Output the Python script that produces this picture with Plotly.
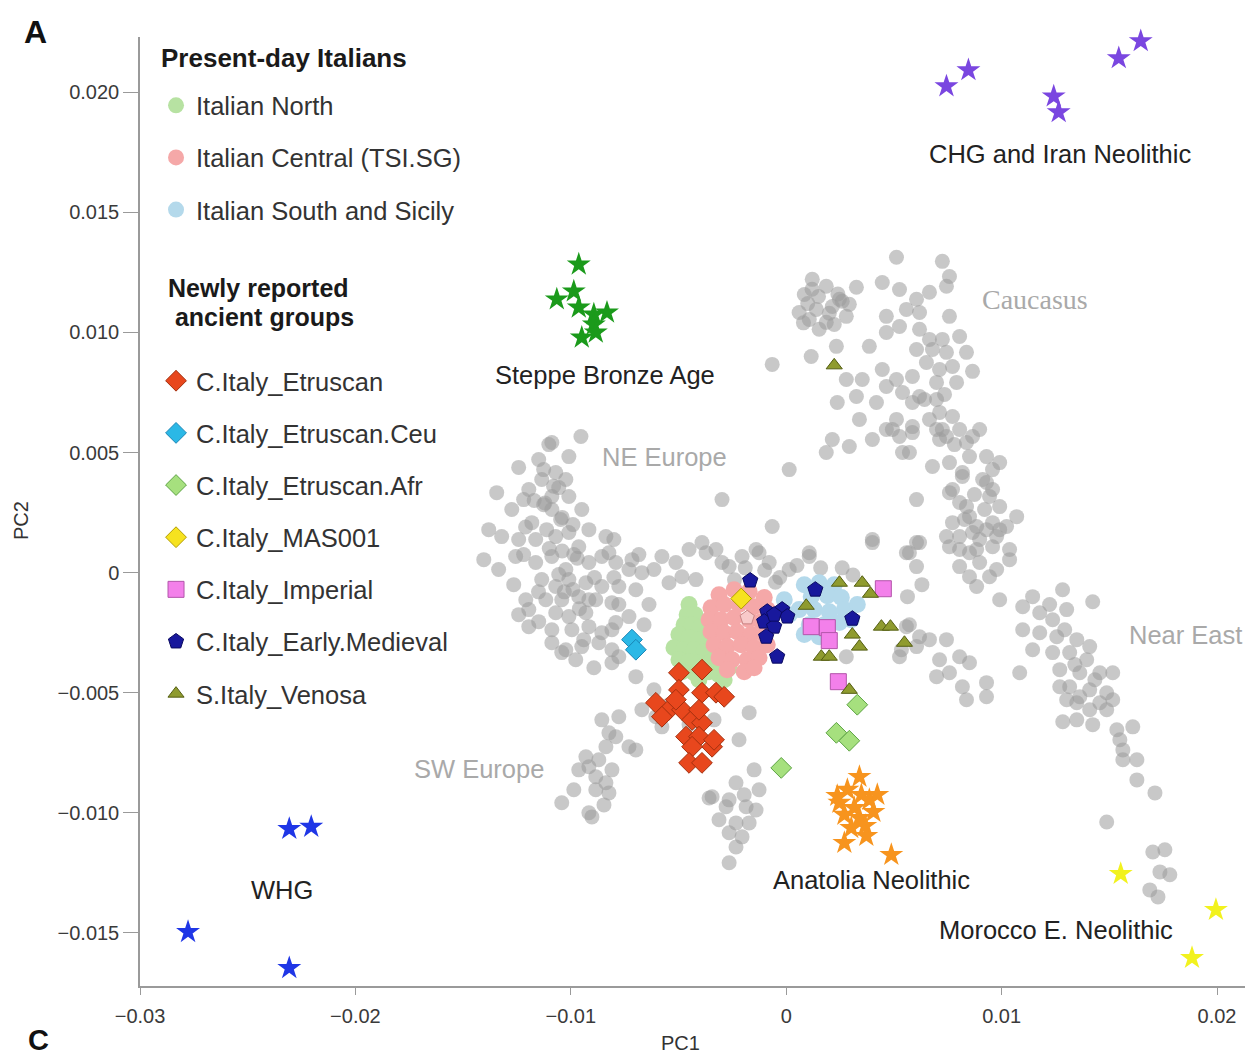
import plotly.graph_objects as go

FONT = "Liberation Sans, Arial, Helvetica, sans-serif"

# ---------------- background reference populations (grey) ----------------
grey_west_europe = [
    (-11.02e-3, 5.33e-3), (-9.53e-3, 5.67e-3), (-10.09e-3, 4.83e-3), (-10.70e-3, 4.17e-3), (-11.35e-3, 3.88e-3),
    (-10.23e-3, 3.88e-3), (-11.95e-3, 3.46e-3), (-10.88e-3, 3.17e-3), (-10.09e-3, 3.17e-3), (-13.44e-3, 3.33e-3),
    (-12.74e-3, 2.63e-3), (-10.88e-3, 2.63e-3), (-9.49e-3, 2.63e-3), (-11.81e-3, 2.08e-3), (-13.81e-3, 1.79e-3),
    (-13.21e-3, 1.50e-3), (-12.42e-3, 1.38e-3), (-11.63e-3, 1.38e-3), (-10.70e-3, 1.50e-3), (-10.09e-3, 1.67e-3),
    (-9.63e-3, 1.08e-3), (-8.37e-3, 1.50e-3), (-14.04e-3, 0.54e-3), (-13.35e-3, 0.13e-3), (-12.56e-3, 0.67e-3),
    (-11.63e-3, 0.42e-3), (-10.88e-3, 0.67e-3), (-10.23e-3, 0.13e-3), (-9.16e-3, 0.42e-3), (-8.56e-3, 0.67e-3),
    (-7.91e-3, 0.42e-3), (-7.30e-3, 0.13e-3), (-6.70e-3, 0.00e-3), (-5.77e-3, 0.67e-3), (-5.12e-3, 0.42e-3),
    (-4.51e-3, 0.96e-3), (-3.91e-3, 1.25e-3), (-3.26e-3, 0.96e-3), (-2.98e-3, 0.42e-3), (-4.84e-3, -0.17e-3),
    (-5.44e-3, -0.42e-3), (-4.19e-3, -0.29e-3), (-11.35e-3, -0.29e-3), (-10.70e-3, -0.58e-3), (-10.09e-3, -0.29e-3),
    (-9.30e-3, -0.42e-3), (-8.56e-3, -0.58e-3), (-7.77e-3, -0.58e-3), (-6.98e-3, -0.71e-3), (-11.16e-3, -1.13e-3),
    (-10.42e-3, -1.13e-3), (-9.63e-3, -1.00e-3), (-8.84e-3, -1.13e-3), (-8.09e-3, -1.25e-3), (-10.70e-3, -1.67e-3),
    (-10.09e-3, -1.83e-3), (-9.30e-3, -1.67e-3), (-11.95e-3, -2.25e-3), (-10.88e-3, -2.38e-3), (-9.95e-3, -2.38e-3),
    (-9.16e-3, -2.25e-3), (-8.56e-3, -2.50e-3), (-7.91e-3, -2.08e-3), (-7.30e-3, -1.83e-3), (-10.88e-3, -2.92e-3),
    (-10.23e-3, -3.21e-3), (-9.49e-3, -3.08e-3), (-8.70e-3, -2.92e-3), (-8.09e-3, -3.21e-3), (-8.09e-3, -3.75e-3),
    (-6.98e-3, -4.33e-3), (-2.05e-3, 0.67e-3), (-1.40e-3, 0.96e-3), (-0.79e-3, 0.42e-3), (0.14e-3, 0.13e-3),
    (-0.65e-3, 1.92e-3), (-2.98e-3, 3.04e-3), (0.14e-3, 4.29e-3), (-2.65e-3, 0.25e-3), (-0.65e-3, 8.67e-3),
    (1.16e-3, 9.00e-3), (2.33e-3, 9.42e-3), (2.37e-3, 7.08e-3), (-10.88e-3, 5.42e-3), (-8.23e-3, 0.83e-3),
    (-7.16e-3, 0.54e-3), (-3.72e-3, 0.83e-3), (-1.26e-3, 0.83e-3), (1.07e-3, 0.67e-3), (4.00e-3, 1.25e-3),
    (5.72e-3, 0.83e-3), (-8.09e-3, -2.38e-3), (-7.77e-3, -3.50e-3), (5.58e-3, -2.25e-3), (6.19e-3, -2.67e-3),
    (2.79e-3, -3.50e-3), (5.26e-3, -3.50e-3), (-12.65e-3, -0.50e-3), (-12.09e-3, -1.13e-3), (-11.49e-3, -2.04e-3),
    (-12.42e-3, -1.75e-3), (-9.77e-3, -3.63e-3), (-8.93e-3, -3.96e-3), (-6.37e-3, -1.33e-3), (-6.60e-3, -2.17e-3),
    (-12.42e-3, 4.38e-3), (-11.49e-3, 4.71e-3), (-11.2e-3, 2.9e-3), (-10.4e-3, 2.3e-3), (-9.9e-3, 2.0e-3),
    (-11.0e-3, 1.0e-3), (-10.4e-3, 0.9e-3), (-9.9e-3, -0.7e-3), (-10.3e-3, -0.8e-3), (-9.6e-3, -1.5e-3),
    (-11.5e-3, -0.8e-3), (-10.8e-3, 3.6e-3), (-11.7e-3, 3.0e-3), (-12.1e-3, 1.9e-3), (-8.9e-3, -0.2e-3),
    (-9.7e-3, 0.6e-3), (-8.0e-3, -0.2e-3), (-1.9e-3, 0.2e-3), (-1.0e-3, 0.1e-3), (-0.3e-3, -0.2e-3),
    (0.5e-3, 0.3e-3), (1.6e-3, 0.2e-3), (2.6e-3, 0.2e-3), (-2.4e-3, -0.3e-3), (-0.5e-3, -0.4e-3),
    (3.1e-3, -0.1e-3), (6.3e-3, -0.5e-3), (-11.26e-3, 4.29e-3), (-10.56e-3, 3.54e-3), (-11.26e-3, 2.83e-3),
    (-12.19e-3, 3.04e-3), (-10.47e-3, 2.21e-3), (-9.16e-3, 1.79e-3), (-11.12e-3, 1.79e-3), (-12.19e-3, 0.75e-3),
    (-10.56e-3, -0.08e-3), (-9.16e-3, -1.13e-3), (-9.86e-3, 0.75e-3), (-8.00e-3, 1.38e-3), (-6.84e-3, 0.75e-3),
    (-6.14e-3, 0.13e-3), (-11.95e-3, -1.54e-3), (-9.40e-3, -2.79e-3), (-7.77e-3, -1.33e-3),
]

grey_sw_europe = [
    (-10.42e-3, -9.58e-3), (-9.02e-3, -10.17e-3), (-9.16e-3, -8.08e-3), (-8.84e-3, -8.50e-3), (-8.37e-3, -8.75e-3),
    (-8.09e-3, -8.21e-3), (-9.63e-3, -8.21e-3), (-8.37e-3, -7.25e-3), (-7.91e-3, -6.83e-3), (-7.30e-3, -7.25e-3),
    (-6.98e-3, -7.38e-3), (-8.56e-3, -6.13e-3), (-7.77e-3, -6.00e-3), (-8.23e-3, -6.67e-3), (-10.42e-3, -3.33e-3),
    (-6.70e-3, -5.71e-3), (-6.05e-3, -6.00e-3), (-5.77e-3, -6.42e-3), (-9.30e-3, -7.67e-3), (-8.70e-3, -7.79e-3),
    (-8.84e-3, -9.04e-3), (-8.23e-3, -9.17e-3), (-9.16e-3, -10.00e-3), (-8.46e-3, -9.67e-3), (-9.86e-3, -9.04e-3),
    (-1.72e-3, -5.83e-3), (-2.19e-3, -6.96e-3), (-2.33e-3, -8.75e-3), (-3.44e-3, -9.33e-3), (-2.65e-3, -9.46e-3),
    (-1.86e-3, -9.75e-3), (-1.40e-3, -9.88e-3), (-3.12e-3, -10.29e-3), (-2.33e-3, -10.42e-3), (-1.72e-3, -10.42e-3),
    (-2.65e-3, -10.83e-3), (-2.05e-3, -11.00e-3), (-2.33e-3, -11.42e-3), (-2.65e-3, -12.08e-3), (-3.58e-3, -9.38e-3),
    (-2.79e-3, -9.75e-3), (-1.95e-3, -9.25e-3), (-1.26e-3, -9.04e-3), (-1.49e-3, -8.21e-3), (-5.44e-3, -5.50e-3),
    (-4.51e-3, -6.33e-3), (-3.35e-3, -6.13e-3), (-6.14e-3, -4.88e-3),
]

grey_caucasus = [
    (5.12e-3, 13.13e-3), (7.25e-3, 12.96e-3), (7.58e-3, 12.33e-3), (1.21e-3, 12.21e-3), (1.86e-3, 11.92e-3),
    (3.26e-3, 11.88e-3), (4.46e-3, 12.08e-3), (5.26e-3, 11.79e-3), (6.05e-3, 11.38e-3), (6.65e-3, 11.67e-3),
    (7.44e-3, 11.92e-3), (0.60e-3, 10.83e-3), (1.40e-3, 10.96e-3), (2.14e-3, 11.08e-3), (2.79e-3, 10.67e-3),
    (1.86e-3, 10.42e-3), (1.07e-3, 10.54e-3), (1.53e-3, 10.13e-3), (5.58e-3, 10.96e-3), (6.19e-3, 10.83e-3),
    (4.65e-3, 10.67e-3), (7.58e-3, 10.67e-3), (5.26e-3, 10.25e-3), (4.65e-3, 10.00e-3), (6.19e-3, 10.13e-3),
    (6.65e-3, 9.71e-3), (7.25e-3, 9.71e-3), (8.05e-3, 9.83e-3), (3.86e-3, 9.42e-3), (6.05e-3, 9.29e-3),
    (6.79e-3, 9.29e-3), (7.44e-3, 9.17e-3), (8.37e-3, 9.17e-3), (6.51e-3, 8.75e-3), (7.12e-3, 8.46e-3),
    (7.72e-3, 8.58e-3), (8.65e-3, 8.38e-3), (4.46e-3, 8.46e-3), (3.53e-3, 8.04e-3), (2.79e-3, 8.04e-3),
    (5.12e-3, 8.04e-3), (5.86e-3, 8.17e-3), (6.98e-3, 7.92e-3), (7.91e-3, 7.92e-3), (4.65e-3, 7.75e-3),
    (5.40e-3, 7.50e-3), (6.19e-3, 7.33e-3), (6.98e-3, 7.21e-3), (3.26e-3, 7.33e-3), (4.19e-3, 7.08e-3),
    (5.86e-3, 7.08e-3), (7.12e-3, 6.67e-3), (7.72e-3, 6.50e-3), (3.40e-3, 6.38e-3), (5.12e-3, 6.38e-3),
    (5.86e-3, 6.08e-3), (4.65e-3, 5.96e-3), (6.98e-3, 5.96e-3), (8.05e-3, 5.96e-3), (8.98e-3, 5.96e-3),
    (2.14e-3, 5.54e-3), (2.93e-3, 5.25e-3), (4.00e-3, 5.54e-3), (5.26e-3, 5.67e-3), (7.44e-3, 5.67e-3),
    (8.65e-3, 5.67e-3), (1.86e-3, 5.00e-3), (5.72e-3, 5.00e-3), (8.51e-3, 4.83e-3), (9.30e-3, 4.83e-3),
    (6.79e-3, 4.42e-3), (7.58e-3, 4.58e-3), (8.18e-3, 4.17e-3), (9.58e-3, 4.29e-3), (9.91e-3, 4.58e-3),
    (9.30e-3, 3.75e-3), (9.44e-3, 3.17e-3), (7.72e-3, 3.46e-3), (6.05e-3, 3.04e-3), (8.37e-3, 2.75e-3),
    (9.91e-3, 2.75e-3), (10.70e-3, 2.33e-3), (7.72e-3, 2.08e-3), (8.51e-3, 2.33e-3), (7.44e-3, 1.50e-3),
    (8.05e-3, 0.96e-3), (8.65e-3, 1.67e-3), (9.30e-3, 1.79e-3), (9.91e-3, 1.79e-3), (8.84e-3, 0.96e-3),
    (9.58e-3, 1.08e-3), (10.37e-3, 0.96e-3), (4.00e-3, 1.38e-3), (1.07e-3, 0.83e-3), (6.05e-3, 1.25e-3),
    (5.58e-3, 0.83e-3), (1.5e-3, 11.5e-3), (2.4e-3, 11.6e-3), (1.0e-3, 11.2e-3), (2.0e-3, 10.8e-3),
    (2.6e-3, 11.3e-3), (1.2e-3, 11.8e-3), (0.8e-3, 10.4e-3), (2.47e-3, 11.38e-3), (0.84e-3, 11.58e-3),
    (2.93e-3, 11.17e-3), (2.23e-3, 10.33e-3), (6.42e-3, 7.21e-3), (7.35e-3, 7.42e-3), (6.65e-3, 6.38e-3),
    (7.81e-3, 5.33e-3), (8.28e-3, 2.21e-3), (9.21e-3, 2.63e-3), (8.74e-3, 3.25e-3),
]

grey_near_east = [
    (4.93e-3, 5.96e-3), (5.86e-3, 5.83e-3), (7.25e-3, 5.96e-3), (5.40e-3, 5.00e-3), (7.12e-3, 5.54e-3),
    (8.37e-3, 5.42e-3), (8.18e-3, 4.00e-3), (9.12e-3, 3.88e-3), (9.58e-3, 3.46e-3), (7.58e-3, 3.33e-3),
    (8.05e-3, 2.92e-3), (8.84e-3, 1.92e-3), (9.58e-3, 2.08e-3), (10.23e-3, 1.92e-3), (8.05e-3, 1.50e-3),
    (8.98e-3, 1.38e-3), (9.77e-3, 1.50e-3), (7.58e-3, 1.08e-3), (8.51e-3, 0.83e-3), (6.19e-3, 1.25e-3),
    (8.05e-3, 0.25e-3), (8.98e-3, 0.42e-3), (9.77e-3, 0.13e-3), (10.37e-3, 0.54e-3), (6.05e-3, 0.25e-3),
    (8.51e-3, -0.17e-3), (9.44e-3, -0.17e-3), (8.84e-3, -0.58e-3), (9.91e-3, -1.13e-3), (5.63e-3, -1.00e-3),
    (10.98e-3, -1.42e-3), (11.44e-3, -1.00e-3), (12.83e-3, -0.71e-3), (14.23e-3, -1.21e-3), (11.77e-3, -1.67e-3),
    (12.37e-3, -1.96e-3), (13.02e-3, -1.54e-3), (10.98e-3, -2.38e-3), (11.77e-3, -2.50e-3), (12.56e-3, -2.67e-3),
    (13.49e-3, -2.79e-3), (14.09e-3, -3.08e-3), (11.44e-3, -3.21e-3), (12.37e-3, -3.33e-3), (13.16e-3, -3.33e-3),
    (13.95e-3, -3.63e-3), (12.70e-3, -4.04e-3), (13.63e-3, -4.17e-3), (14.56e-3, -4.17e-3), (15.16e-3, -4.17e-3),
    (13.16e-3, -4.75e-3), (14.09e-3, -4.88e-3), (14.88e-3, -5.00e-3), (13.49e-3, -5.42e-3), (14.56e-3, -5.42e-3),
    (10.84e-3, -4.17e-3), (6.65e-3, -2.79e-3), (7.44e-3, -2.79e-3), (6.05e-3, -3.08e-3), (7.12e-3, -3.63e-3),
    (8.05e-3, -3.50e-3), (8.51e-3, -3.75e-3), (6.98e-3, -4.33e-3), (7.58e-3, -4.17e-3), (8.18e-3, -4.75e-3),
    (9.30e-3, -4.58e-3), (8.37e-3, -5.29e-3), (9.30e-3, -5.17e-3), (5.72e-3, -2.17e-3), (5.35e-3, -3.21e-3),
    (12.70e-3, -4.75e-3), (13.63e-3, -5.17e-3), (15.16e-3, -5.29e-3), (13.02e-3, -5.29e-3), (14.09e-3, -5.71e-3),
    (14.88e-3, -5.71e-3), (12.84e-3, -6.21e-3), (13.49e-3, -6.13e-3), (14.23e-3, -6.33e-3), (15.35e-3, -6.54e-3),
    (16.09e-3, -6.42e-3), (15.49e-3, -6.96e-3), (15.63e-3, -7.38e-3), (15.63e-3, -7.79e-3), (16.28e-3, -7.79e-3),
    (16.28e-3, -8.63e-3), (17.12e-3, -9.17e-3), (14.88e-3, -10.38e-3), (17.02e-3, -11.63e-3), (17.58e-3, -11.54e-3),
    (17.35e-3, -12.46e-3), (17.81e-3, -12.58e-3), (16.88e-3, -13.21e-3), (17.26e-3, -13.50e-3),
    (12.23e-3, -1.33e-3), (12.93e-3, -2.38e-3), (13.40e-3, -3.83e-3), (14.33e-3, -4.46e-3),
]

# ---------------- present-day Italians ----------------
italian_north = [
    (-4.51e-3, -1.33e-3), (-4.60e-3, -1.75e-3), (-4.23e-3, -1.75e-3), (-4.74e-3, -2.17e-3), (-4.37e-3, -2.17e-3),
    (-4.00e-3, -2.29e-3), (-4.98e-3, -2.58e-3), (-4.51e-3, -2.71e-3), (-4.05e-3, -2.79e-3), (-3.58e-3, -2.79e-3),
    (-5.21e-3, -3.13e-3), (-4.74e-3, -3.21e-3), (-4.28e-3, -3.21e-3), (-3.81e-3, -3.29e-3), (-3.35e-3, -3.21e-3),
    (-4.98e-3, -3.63e-3), (-4.51e-3, -3.71e-3), (-4.05e-3, -3.75e-3), (-3.49e-3, -3.71e-3), (-3.02e-3, -3.63e-3),
    (-4.84e-3, -4.13e-3), (-4.28e-3, -4.17e-3), (-3.58e-3, -4.13e-3), (-3.12e-3, -4.25e-3), (-2.65e-3, -3.96e-3),
    (-4.05e-3, -4.46e-3), (-2.88e-3, -4.46e-3),
]
italian_central = [
    (-3.12e-3, -0.92e-3), (-2.42e-3, -0.71e-3), (-1.72e-3, -0.79e-3), (-1.02e-3, -1.04e-3), (-3.49e-3, -1.46e-3),
    (-2.88e-3, -1.33e-3), (-2.19e-3, -1.33e-3), (-1.49e-3, -1.42e-3), (-0.88e-3, -1.54e-3), (-3.58e-3, -1.96e-3),
    (-3.02e-3, -1.96e-3), (-2.42e-3, -1.88e-3), (-1.72e-3, -1.96e-3), (-1.16e-3, -2.04e-3), (-3.49e-3, -2.46e-3),
    (-2.88e-3, -2.50e-3), (-2.28e-3, -2.46e-3), (-1.63e-3, -2.58e-3), (-1.02e-3, -2.58e-3), (-3.35e-3, -3.00e-3),
    (-2.74e-3, -3.08e-3), (-2.09e-3, -3.00e-3), (-1.49e-3, -3.13e-3), (-0.88e-3, -3.00e-3), (-3.12e-3, -3.54e-3),
    (-2.51e-3, -3.63e-3), (-1.81e-3, -3.63e-3), (-1.26e-3, -3.54e-3), (-2.74e-3, -4.04e-3), (-1.95e-3, -4.13e-3),
    (-1.49e-3, -3.96e-3),
]
italian_south = [
    (0.84e-3, -0.50e-3), (1.53e-3, -0.42e-3), (2.23e-3, -0.50e-3), (1.16e-3, -1.00e-3), (1.91e-3, -0.96e-3),
    (2.56e-3, -1.04e-3), (0.60e-3, -1.54e-3), (1.30e-3, -1.54e-3), (2.00e-3, -1.63e-3), (2.70e-3, -1.54e-3),
    (3.30e-3, -1.33e-3), (1.07e-3, -2.17e-3), (1.77e-3, -2.17e-3), (2.47e-3, -2.08e-3), (3.02e-3, -1.96e-3),
    (0.84e-3, -2.58e-3), (1.53e-3, -2.67e-3), (-0.09e-3, -1.13e-3), (0.14e-3, -1.75e-3),
]

# ---------------- newly reported ancient groups ----------------
etruscan = [
    (-4.98e-3, -4.17e-3), (-3.91e-3, -4.04e-3), (-4.98e-3, -4.88e-3), (-3.91e-3, -5.00e-3), (-3.26e-3, -5.00e-3),
    (-2.88e-3, -5.17e-3), (-6.05e-3, -5.42e-3), (-5.44e-3, -5.71e-3), (-4.84e-3, -5.71e-3), (-5.77e-3, -6.00e-3),
    (-4.37e-3, -6.13e-3), (-3.91e-3, -6.25e-3), (-4.65e-3, -6.83e-3), (-4.05e-3, -6.83e-3), (-3.44e-3, -7.25e-3),
    (-4.37e-3, -7.25e-3), (-4.51e-3, -7.92e-3), (-3.91e-3, -7.92e-3), (-5.12e-3, -5.29e-3), (-4.05e-3, -5.71e-3),
    (-3.35e-3, -6.96e-3),
]
etruscan_ceu = [(-7.16e-3, -2.79e-3), (-6.98e-3, -3.21e-3)]
etruscan_afr = [(-0.23e-3, -8.13e-3), (2.33e-3, -6.67e-3), (2.93e-3, -7.00e-3), (3.30e-3, -5.50e-3)]
mas001 = [(-2.09e-3, -1.08e-3)]
imperial = [(4.51e-3, -0.67e-3), (1.16e-3, -2.25e-3), (1.91e-3, -2.29e-3), (2.00e-3, -2.83e-3), (2.42e-3, -4.54e-3)]
early_medieval = [
    (-1.67e-3, -0.33e-3), (1.35e-3, -0.71e-3), (-0.88e-3, -1.63e-3), (-0.19e-3, -1.54e-3), (0.05e-3, -1.83e-3),
    (-1.02e-3, -2.04e-3), (-0.56e-3, -2.25e-3), (-0.93e-3, -2.67e-3), (-0.42e-3, -3.50e-3), (3.07e-3, -1.92e-3),
    (-0.56e-3, -1.75e-3),
]
early_medieval_outlier = [(-1.81e-3, -1.88e-3)]
venosa = [
    (2.47e-3, -0.42e-3), (3.53e-3, -0.42e-3), (3.91e-3, -0.88e-3), (0.93e-3, -1.38e-3), (4.42e-3, -2.25e-3),
    (4.84e-3, -2.25e-3), (3.07e-3, -2.58e-3), (3.40e-3, -3.08e-3), (5.49e-3, -2.92e-3), (1.63e-3, -3.50e-3),
    (2.00e-3, -3.50e-3), (2.93e-3, -4.88e-3), (2.23e-3, 8.63e-3),
]

# ---------------- ancient reference groups (stars) ----------------
steppe_ba = [
    (-9.63e-3, 12.83e-3), (-9.86e-3, 11.71e-3), (-10.65e-3, 11.38e-3), (-9.63e-3, 11.04e-3), (-8.93e-3, 10.75e-3),
    (-8.32e-3, 10.83e-3), (-8.93e-3, 10.33e-3), (-9.49e-3, 9.79e-3), (-8.84e-3, 10.00e-3),
]
chg_iran = [(7.44e-3, 20.25e-3), (8.46e-3, 20.92e-3), (12.42e-3, 19.83e-3), (12.65e-3, 19.17e-3),
            (15.44e-3, 21.42e-3), (16.46e-3, 22.13e-3)]
whg = [(-27.77e-3, -14.96e-3), (-23.07e-3, -10.67e-3), (-22.05e-3, -10.58e-3), (-23.07e-3, -16.46e-3)]
anatolia_n = [
    (3.40e-3, -8.50e-3), (2.84e-3, -9.04e-3), (3.49e-3, -9.25e-3), (2.47e-3, -9.58e-3), (3.16e-3, -9.79e-3),
    (3.86e-3, -9.46e-3), (2.70e-3, -10.08e-3), (3.40e-3, -10.21e-3), (4.05e-3, -9.96e-3), (3.02e-3, -10.63e-3),
    (3.67e-3, -10.54e-3), (2.70e-3, -11.25e-3), (3.72e-3, -10.96e-3), (4.88e-3, -11.75e-3), (4.23e-3, -9.25e-3),
    (2.37e-3, -9.29e-3),
]
morocco_en = [(15.53e-3, -12.54e-3), (19.95e-3, -14.04e-3), (18.84e-3, -16.04e-3)]

# ---------------- region / group labels ----------------
region_labels = [
    ("NE Europe", -5.63e-3, 4.83e-3, "#a9a9a9", "Liberation Sans", 25.5),
    ("Caucasus", 11.53e-3, 11.38e-3, "#a9a9a9", "Liberation Serif", 28),
    ("Near East", 18.56e-3, -2.58e-3, "#a9a9a9", "Liberation Sans", 25.5),
    ("SW Europe", -14.28e-3, -8.17e-3, "#a9a9a9", "Liberation Sans", 25.5),
    ("Steppe Bronze Age", -8.42e-3, 8.21e-3, "#222222", "Liberation Sans", 25.5),
    ("Anatolia Neolithic", 3.95e-3, -12.79e-3, "#222222", "Liberation Sans", 25.5),
    ("Morocco E. Neolithic", 12.51e-3, -14.88e-3, "#222222", "Liberation Sans", 25.5),
    ("WHG", -23.40e-3, -13.21e-3, "#222222", "Liberation Sans", 25.5),
    ("CHG and Iran Neolithic", 12.70e-3, 17.42e-3, "#222222", "Liberation Sans", 25.5),
]

x_tick_vals = [-0.03, -0.02, -0.01, 0, 0.01, 0.02]
x_tick_text = ["\u22120.03", "\u22120.02", "\u22120.01", "0", "0.01", "0.02"]
y_tick_vals = [-0.015, -0.010, -0.005, 0, 0.005, 0.010, 0.015, 0.020]
y_tick_text = ["\u22120.015", "\u22120.010", "\u22120.005", "0", "0.005", "0.010", "0.015", "0.020"]


def xs(pts):
    return [p[0] for p in pts]


def ys(pts):
    return [p[1] for p in pts]


fig = go.Figure()

# grey background populations
for name, pts in [("West Europe", grey_west_europe), ("SW Europe", grey_sw_europe),
                  ("Caucasus", grey_caucasus), ("Near East", grey_near_east)]:
    fig.add_trace(go.Scatter(
        x=xs(pts), y=ys(pts), mode="markers", name=name, showlegend=False,
        marker=dict(symbol="circle", size=15, color="#9a9a9a", opacity=0.55, line=dict(width=0)),
    ))

T1 = "<span style='font-size:26px'><b>Present-day Italians</b></span><br>&nbsp;"
T2 = ("&nbsp;<br><span style='font-size:25px'><b>&nbsp;Newly reported</b></span><br>"
      "<span style='font-size:25px'><b>&nbsp;&nbsp;ancient groups</b></span><br>&nbsp;")

legend_traces = [
    ("Italian North", italian_north, "circle", 17, "#b7e2a2", "#b7e2a2", 0, T1, 12),
    ("Italian Central (TSI.SG)", italian_central, "circle", 17, "#f5a8a8", "#f5a8a8", 0, None, None),
    ("Italian South and Sicily", italian_south, "circle", 17, "#b4d9eb", "#b4d9eb", 0, None, None),
    ("C.Italy_Etruscan", etruscan, "diamond", 16, "#e8471d", "#a3300f", 1, T2, 22.31),
    ("C.Italy_Etruscan.Ceu", etruscan_ceu, "diamond", 16, "#2bb8e6", "#1985b5", 1, None, None),
    ("C.Italy_Etruscan.Afr", etruscan_afr, "diamond", 16, "#a6e07e", "#5ca343", 1, None, None),
    ("C.Italy_MAS001", mas001, "diamond", 16, "#f6e21f", "#b39d00", 1, None, None),
    ("C.Italy_Imperial", imperial, "square", 16, "#f380ea", "#b255aa", 1, None, None),
    ("C.Italy_Early.Medieval", early_medieval, "pentagon", 16, "#18189c", "#0a0a60", 1, None, None),
    ("S.Italy_Venosa", venosa, "triangle-up", 14, "#8f9b2f", "#545e12", 1, None, None),
]

for i, (name, pts, sym, size, fill, edge, lw, gtitle, gsize) in enumerate(legend_traces):
    kw = {}
    if gtitle is not None:
        kw["legendgrouptitle"] = dict(text=gtitle, font=dict(size=gsize, family=FONT, color="#1a1a1a"))
    fig.add_trace(go.Scatter(
        x=xs(pts), y=ys(pts), mode="markers", name=name, legendgroup=f"g{i}",
        marker=dict(symbol=sym, size=size, color=fill, line=dict(color=edge, width=lw)),
        cliponaxis=False, **kw,
    ))

fig.add_trace(go.Scatter(
    x=xs(early_medieval_outlier), y=ys(early_medieval_outlier), mode="markers",
    name="C.Italy_Early.Medieval (outlier)", showlegend=False,
    marker=dict(symbol="pentagon", size=15, color="#f8c9c9", line=dict(color="#c98686", width=1)),
))

star_groups = [
    ("Steppe Bronze Age", steppe_ba, "#1b9a1b"),
    ("CHG and Iran Neolithic", chg_iran, "#7a46e0"),
    ("WHG", whg, "#1f36e6"),
    ("Anatolia Neolithic", anatolia_n, "#f7941e"),
    ("Morocco E. Neolithic", morocco_en, "#f2f21e"),
]
for name, pts, col in star_groups:
    fig.add_trace(go.Scatter(
        x=xs(pts), y=ys(pts), mode="markers", name=name, showlegend=False, cliponaxis=False,
        marker=dict(symbol="star", size=18, color=col, line=dict(width=0)),
    ))

annotations = []
for text, x, y, col, fam, fs in region_labels:
    annotations.append(dict(x=x, y=y, xref="x", yref="y", text=text, showarrow=False,
                            font=dict(size=fs, color=col, family=fam + ", " + FONT),
                            xanchor="center", yanchor="middle"))

annotations += [
    dict(x=-0.095, y=1.0053, xref="paper", yref="paper", text="<b>A</b>", showarrow=False,
         font=dict(size=32, color="#111", family=FONT), xanchor="center", yanchor="middle"),
    dict(x=-0.092, y=-0.0569, xref="paper", yref="paper", text="<b>C</b>", showarrow=False,
         font=dict(size=29, color="#111", family=FONT), xanchor="center", yanchor="middle"),
    dict(x=0.4887, y=-0.0601, xref="paper", yref="paper", text="PC1", showarrow=False,
         font=dict(size=20, color="#333", family=FONT), xanchor="center", yanchor="middle"),
    dict(x=-0.1077, y=0.491, xref="paper", yref="paper", text="PC2", showarrow=False, textangle=-90,
         font=dict(size=20, color="#333", family=FONT), xanchor="center", yanchor="middle"),
]

fig.update_layout(
    width=1245, height=1051,
    margin=dict(l=132, r=8, t=29, b=73),
    paper_bgcolor="white", plot_bgcolor="white",
    font=dict(family=FONT, color="#333"),
    showlegend=True,
    legend=dict(x=0.0145, xanchor="left", y=0.9884, yanchor="top", bgcolor="rgba(0,0,0,0)",
                font=dict(size=25.5, family=FONT, color="#333"), tracegroupgap=16,
                traceorder="grouped", itemwidth=30),
    annotations=annotations,
    xaxis=dict(range=[-0.030, 0.0213], tickvals=x_tick_vals, ticktext=x_tick_text,
               showgrid=False, zeroline=False, showline=True, linecolor="#9a9a9a", linewidth=1.5,
               ticks="outside", ticklen=7, tickcolor="#9a9a9a", tickwidth=1.2, ticklabelstandoff=4,
               tickfont=dict(size=20, color="#3a3a3a", family=FONT)),
    yaxis=dict(range=[-0.01721, 0.0223], tickvals=y_tick_vals, ticktext=y_tick_text,
               showgrid=False, zeroline=False, showline=True, linecolor="#9a9a9a", linewidth=1.5,
               ticks="outside", ticklen=15, tickcolor="#9a9a9a", tickwidth=1.2,
               tickfont=dict(size=20, color="#3a3a3a", family=FONT)),
)

fig.write_html("out.html")
